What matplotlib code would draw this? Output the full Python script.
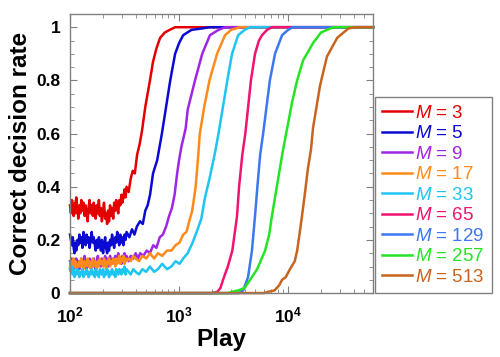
import matplotlib
matplotlib.use("Agg")
import matplotlib.pyplot as plt
from matplotlib.ticker import MultipleLocator

plt.rcParams['font.family'] = ['Liberation Sans', 'DejaVu Sans']
plt.rcParams['mathtext.fontset'] = 'custom'
plt.rcParams['mathtext.rm'] = 'Liberation Sans'
plt.rcParams['mathtext.it'] = 'Liberation Sans:italic'
plt.rcParams['mathtext.bf'] = 'Liberation Sans:bold'

# play count vs correct decision rate, one curve per M
m_values = [3, 5, 9, 17, 33, 65, 129, 257, 513]
colors = ['#e50000', '#0a0ad2', '#a026e6', '#ff8a1c', '#1ec4f2',
          '#f01470', '#3c78f0', '#24e424', '#c8641e']

# early plays shared by the five noisy curves
play_low = [100, 102, 104, 106, 108, 110, 112, 114, 117, 119, 122, 124, 127, 130, 133, 136,
            139, 142, 145, 148, 151, 155, 158, 162, 165, 169, 172, 176, 180, 184, 188, 192,
            196, 201, 205, 210, 214, 219, 223, 228, 233, 238, 243, 249, 254, 260, 265, 271,
            277, 283, 289, 296, 302, 309, 316, 323, 330]

rate_low_m3 = [0.33, 0.30, 0.35, 0.31, 0.29, 0.34, 0.30, 0.36, 0.32, 0.28,
               0.33, 0.30, 0.35, 0.31, 0.34, 0.29, 0.33, 0.30, 0.27, 0.32,
               0.35, 0.30, 0.33, 0.29, 0.34, 0.31, 0.28, 0.33, 0.30, 0.35,
               0.29, 0.32, 0.27, 0.31, 0.34, 0.28, 0.30, 0.26, 0.31, 0.27,
               0.33, 0.29, 0.32, 0.28, 0.34, 0.31, 0.35, 0.32, 0.30, 0.35,
               0.33, 0.37, 0.34, 0.36, 0.39, 0.36, 0.40]
rate_low_m5 = [0.22, 0.20, 0.18, 0.21, 0.17, 0.15, 0.19, 0.16, 0.20, 0.18,
               0.22, 0.19, 0.21, 0.17, 0.23, 0.20, 0.18, 0.22, 0.19, 0.21,
               0.17, 0.20, 0.23, 0.19, 0.21, 0.18, 0.16, 0.20, 0.17, 0.21,
               0.19, 0.16, 0.20, 0.15, 0.18, 0.21, 0.17, 0.15, 0.19, 0.16,
               0.20, 0.18, 0.22, 0.19, 0.17, 0.21, 0.19, 0.23, 0.20, 0.18,
               0.22, 0.19, 0.21, 0.18, 0.22, 0.20, 0.23]
rate_low_m9 = [0.12, 0.10, 0.13, 0.11, 0.09, 0.12, 0.10, 0.13, 0.11, 0.12,
               0.09, 0.11, 0.13, 0.10, 0.12, 0.14, 0.11, 0.09, 0.12, 0.10,
               0.13, 0.11, 0.12, 0.10, 0.13, 0.11, 0.09, 0.12, 0.14, 0.11,
               0.12, 0.10, 0.13, 0.11, 0.12, 0.14, 0.11, 0.13, 0.10, 0.12,
               0.14, 0.12, 0.11, 0.13, 0.12, 0.14, 0.11, 0.13, 0.15, 0.12,
               0.13, 0.11, 0.14, 0.12, 0.15, 0.13, 0.14]
rate_low_m17 = [0.10, 0.12, 0.09, 0.11, 0.13, 0.10, 0.12, 0.09, 0.11, 0.10,
                0.12, 0.10, 0.13, 0.11, 0.09, 0.12, 0.10, 0.11, 0.13, 0.10,
                0.12, 0.09, 0.11, 0.13, 0.10, 0.12, 0.11, 0.09, 0.12, 0.10,
                0.13, 0.11, 0.12, 0.10, 0.13, 0.11, 0.09, 0.12, 0.11, 0.13,
                0.10, 0.12, 0.11, 0.13, 0.12, 0.10, 0.13, 0.11, 0.12, 0.14,
                0.11, 0.13, 0.12, 0.14, 0.11, 0.13, 0.12]
rate_low_m33 = [0.09, 0.08, 0.10, 0.07, 0.09, 0.06, 0.08, 0.07, 0.09, 0.08,
                0.06, 0.08, 0.07, 0.09, 0.06, 0.08, 0.07, 0.09, 0.08, 0.06,
                0.08, 0.07, 0.09, 0.07, 0.08, 0.06, 0.09, 0.07, 0.08, 0.06,
                0.09, 0.08, 0.07, 0.09, 0.06, 0.08, 0.07, 0.09, 0.08, 0.06,
                0.08, 0.07, 0.09, 0.07, 0.08, 0.06, 0.09, 0.08, 0.07, 0.09,
                0.08, 0.07, 0.09, 0.08, 0.10, 0.07, 0.09]

# later part of each curve
play_hi_m3 = [345, 360, 376, 393, 412, 435, 457, 490, 541, 577, 620, 670, 740, 820, 920,
              1100, 60000]
rate_hi_m3 = [0.38, 0.43, 0.46, 0.45, 0.52, 0.56, 0.61, 0.70, 0.80, 0.87, 0.92, 0.96, 0.98,
              0.99, 1.0, 1.0, 1.0]

play_hi_m5 = [350, 370, 390, 410, 438, 465, 490, 515, 542, 577, 630, 696, 760, 830, 920,
              1000, 1090, 1300, 1600, 1900, 60000]
rate_hi_m5 = [0.21, 0.24, 0.22, 0.25, 0.27, 0.26, 0.31, 0.33, 0.37, 0.45, 0.50, 0.60, 0.70,
              0.80, 0.90, 0.94, 0.97, 0.99, 0.995, 1.0, 1.0]

play_hi_m9 = [345, 360, 380, 400, 420, 440, 470, 505, 540, 580, 620, 665, 710, 760, 810,
              860, 910, 960, 1000, 1050, 1150, 1200, 1400, 1630, 1920, 2300, 2640, 60000]
rate_hi_m9 = [0.12, 0.14, 0.13, 0.15, 0.13, 0.15, 0.14, 0.16, 0.15, 0.18, 0.17, 0.21, 0.22,
              0.25, 0.29, 0.32, 0.37, 0.45, 0.50, 0.55, 0.62, 0.69, 0.80, 0.90, 0.97, 0.99,
              1.0, 1.0]

play_hi_m17 = [345, 360, 380, 400, 430, 460, 500, 540, 590, 640, 700, 775, 850, 930, 1010,
               1090, 1170, 1240, 1320, 1420, 1500, 1550, 1700, 1900, 2230, 2640, 3000, 3600,
               60000]
rate_hi_m17 = [0.13, 0.12, 0.14, 0.13, 0.12, 0.14, 0.13, 0.15, 0.13, 0.15, 0.14, 0.16, 0.16,
               0.18, 0.19, 0.22, 0.23, 0.27, 0.31, 0.40, 0.52, 0.60, 0.70, 0.80, 0.90, 0.97,
               0.99, 1.0, 1.0]

play_hi_m33 = [345, 360, 380, 400, 430, 460, 500, 540, 590, 640, 700, 775, 850, 930, 1010,
               1090, 1200, 1330, 1480, 1600, 1730, 1900, 2140, 2300, 2770, 3060, 3480, 4000,
               4470, 60000]
rate_hi_m33 = [0.08, 0.07, 0.09, 0.08, 0.07, 0.09, 0.08, 0.10, 0.08, 0.09, 0.11, 0.09, 0.10,
               0.12, 0.11, 0.13, 0.15, 0.19, 0.24, 0.28, 0.36, 0.43, 0.53, 0.60, 0.80, 0.90,
               0.97, 0.99, 1.0, 1.0]

# curves that stay at zero early on
play_m65 = [100, 2000, 2250, 2400, 2530, 2800, 3080, 3400, 3550, 3800, 4050, 4560, 4970, 5400,
            5760, 6400, 7100, 60000]
rate_m65 = [0.0, 0.0, 0.005, 0.02, 0.05, 0.10, 0.16, 0.29, 0.40, 0.52, 0.60, 0.80, 0.90, 0.95,
            0.97, 0.99, 1.0, 1.0]

play_m129 = [100, 3500, 3870, 4290, 4660, 4970, 5250, 5540, 5900, 6800, 7580, 8800, 10000,
             11000, 60000]
rate_m129 = [0.0, 0.0, 0.01, 0.06, 0.16, 0.29, 0.41, 0.52, 0.60, 0.80, 0.90, 0.97, 0.99, 1.0, 1.0]

play_m257 = [100, 2800, 3080, 3500, 4000, 4480, 5200, 6150, 6700, 7100, 7950, 8900, 9800,
             10900, 12100, 13700, 16900, 20000, 22700, 26000, 60000]
rate_m257 = [0.0, 0.0, 0.005, 0.01, 0.02, 0.05, 0.09, 0.16, 0.22, 0.29, 0.41, 0.53, 0.62, 0.72,
             0.80, 0.875, 0.94, 0.98, 0.99, 1.0, 1.0]

play_m513 = [100, 6000, 6600, 7500, 8300, 8800, 9500, 10400, 11500, 12100, 12700, 13400, 14300,
             15200, 16200, 16900, 18200, 19600, 22700, 28200, 35600, 41000, 60000]
rate_m513 = [0.0, 0.0, 0.005, 0.01, 0.03, 0.05, 0.06, 0.09, 0.12, 0.16, 0.22, 0.29, 0.38, 0.47,
             0.54, 0.62, 0.70, 0.78, 0.89, 0.96, 0.995, 1.0, 1.0]

plays = [play_low + play_hi_m3, play_low + play_hi_m5, play_low + play_hi_m9,
         play_low + play_hi_m17, play_low + play_hi_m33,
         play_m65, play_m129, play_m257, play_m513]
rates = [rate_low_m3 + rate_hi_m3, rate_low_m5 + rate_hi_m5, rate_low_m9 + rate_hi_m9,
         rate_low_m17 + rate_hi_m17, rate_low_m33 + rate_hi_m33,
         rate_m65, rate_m129, rate_m257, rate_m513]

fig = plt.figure(figsize=(5.0, 3.57), dpi=100)
ax = fig.add_axes([0.14, 0.179, 0.606, 0.782])

for m, c, x, y in zip(m_values, colors, plays, rates):
    ax.plot(x, y, color=c, lw=1.8, label=rf'$M$ = {m}', clip_on=False, solid_joinstyle='round')

ax.set_xscale('log')
ax.set_xlim(100, 60000)
ax.set_ylim(0, 1.05)

ax.set_xticks([100, 1000, 10000])
ax.set_xticklabels([r'$\mathbf{10^{2}}$', r'$\mathbf{10^{3}}$', r'$\mathbf{10^{4}}$'])
ax.set_yticks([0, 0.2, 0.4, 0.6, 0.8, 1.0])
ax.set_yticklabels(['0', '0.2', '0.4', '0.6', '0.8', '1'])
ax.yaxis.set_minor_locator(MultipleLocator(0.05))

for lab in ax.get_yticklabels():
    lab.set_fontweight('bold')
ax.tick_params(which='both', direction='in', top=True, right=True, colors='#808080',
               labelcolor='black', labelsize=12.5)
ax.tick_params(axis='y', pad=7)
ax.tick_params(axis='x', pad=9)
ax.tick_params(which='major', length=5)
ax.tick_params(which='minor', length=3)
for s in ax.spines.values():
    s.set_color('#808080')
    s.set_linewidth(1.0)

ax.set_xlabel('Play', fontsize=17.5, fontweight='bold', labelpad=2)
ax.set_ylabel('Correct decision rate', fontsize=17.5, fontweight='bold', labelpad=3)

leg = ax.legend(loc='lower left', bbox_to_anchor=(1.005, 0.0), borderaxespad=0,
                fontsize=13.5, handlelength=1.6, handletextpad=0.15, labelspacing=0.18,
                borderpad=0.4, fancybox=False, framealpha=1, edgecolor='#808080')
leg.get_frame().set_linewidth(1.0)
for text, c in zip(leg.get_texts(), colors):
    text.set_color(c)

fig.savefig('out.png', dpi=100)
